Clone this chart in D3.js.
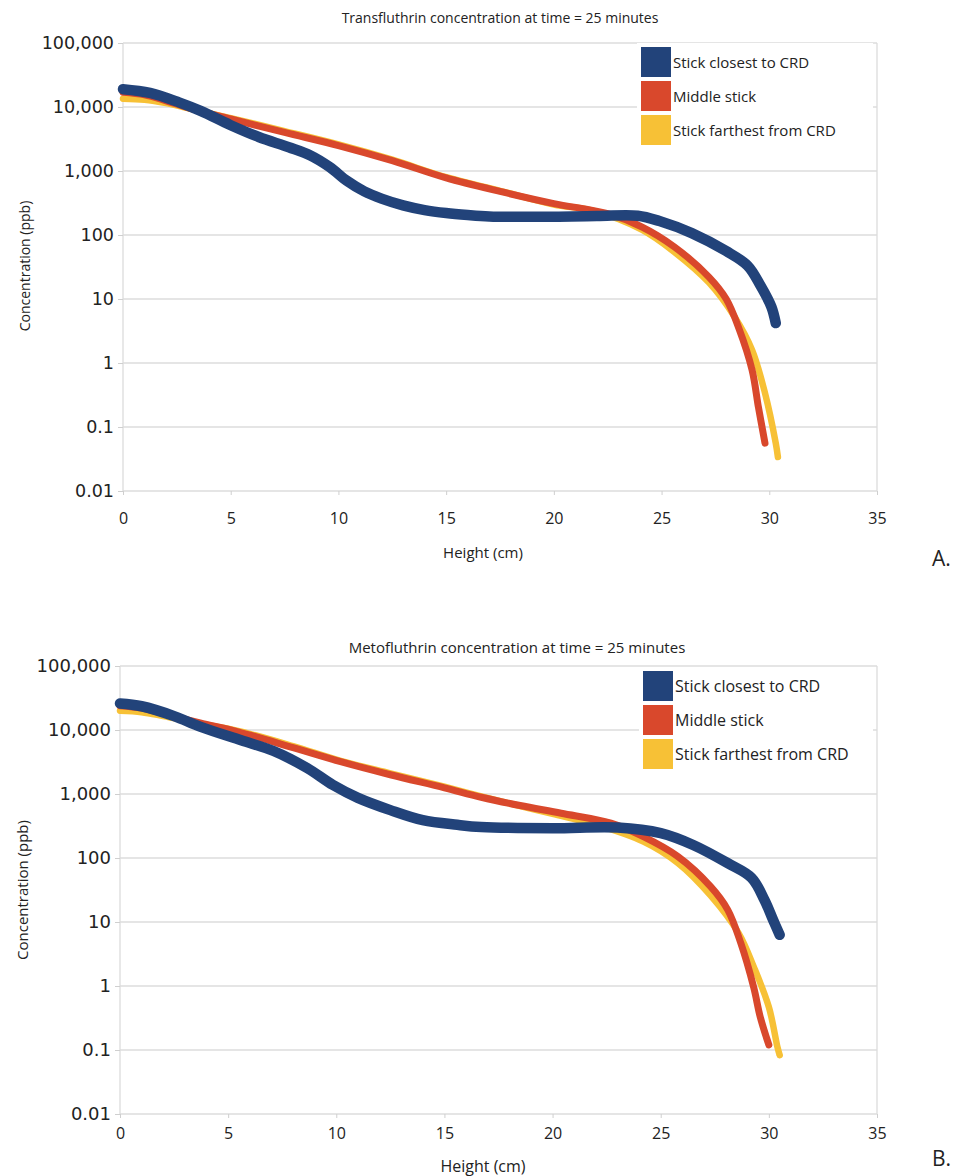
<!DOCTYPE html>
<html>
<head>
<meta charset="utf-8">
<script src="https://cdn.jsdelivr.net/npm/d3@7"></script>
<style>
  body { margin: 0; background: #fff; }
  svg { display: block; }
  .tick-y { font-family: "DejaVu Sans", sans-serif; fill: #222; }
  .txt { font-family: "Open Sans", "Noto Sans", sans-serif; fill: #222; }
</style>
</head>
<body>
<script>
// series names and colours (legend order)
var seriesNames = ["Stick closest to CRD", "Middle stick", "Stick farthest from CRD"];
var seriesColors = ["#22437a", "#d9482c", "#f7c136"];

// y ticks (log) and x ticks
var yTicks = [0.01, 0.1, 1, 10, 100, 1000, 10000, 100000];
var xTicks = [0, 5, 10, 15, 20, 25, 30, 35];

// Transfluthrin, [height cm, concentration ppb]
var transClosest = [[0,19000],[1.25,16600],[2.6,11800],[3.6,8700],[5,5200],[6.3,3400],[7.7,2350],[8.7,1750],[9.6,1150],[10.4,700],[11.2,480],[12,370],[13,290],[14,245],[15,220],[16,205],[17,195],[19,192],[22,198],[23.9,200],[24.9,165],[26.4,107],[28,56],[29,33],[29.6,16],[30.1,7.5],[30.3,4.2]];
var transMiddle = [[0,17000],[1,15500],[2,12500],[3,9800],[5,6500],[7.5,4000],[10,2500],[12.5,1450],[15,780],[17.5,480],[20,310],[22.5,215],[24.1,133],[25.6,65],[27.2,22],[28,10],[28.6,3.4],[29.2,0.78],[29.5,0.2],[29.8,0.056]];
var transFarthest = [[0,13500],[1,13000],[2,11500],[3,9600],[5,6700],[7.5,4200],[10,2600],[12.5,1500],[15,800],[17.5,490],[20,300],[21.8,240],[24.1,120],[25.6,54],[27.2,18],[28.4,5.2],[29.2,1.6],[29.8,0.34],[30.3,0.056],[30.4,0.034]];

// Metofluthrin
var metoClosest = [[0,26000],[1,23500],[2.5,16500],[3.7,11300],[5.6,6900],[7.1,4700],[8.65,2550],[9.85,1380],[11,870],[12.5,560],[14,390],[15.6,330],[16.7,305],[20,292],[23,300],[25,245],[26.5,160],[28.1,83],[29.2,49],[29.8,22],[30.2,10.7],[30.5,6.3]];
var metoMiddle = [[0,24000],[1,22000],[2,18000],[3.7,12900],[5.5,9300],[8,5300],[10.2,3200],[12.5,2000],[15,1250],[16.7,890],[18.5,660],[20.4,500],[22.7,350],[24.2,215],[25.8,105],[27.3,36],[28.1,15.5],[28.7,4.7],[29.3,0.95],[29.6,0.33],[30,0.12]];
var metoFarthest = [[0,20000],[1,19000],[2,16500],[3.5,13000],[5.5,9600],[8,5600],[10.2,3300],[12.5,2100],[15,1300],[16.7,920],[18.5,650],[20,490],[21.9,340],[24.2,180],[25.8,83],[27.3,26],[28.6,6.7],[29.3,2],[30,0.47],[30.4,0.11],[30.5,0.083]];

var W = 966, H = 1176;
var svg = d3.select("body").append("svg")
  .attr("width", W)
  .attr("height", H);

var fmt = d3.format(",");

function drawPanel(p) {
  var x = d3.scaleLinear().domain([0, 35]).range([p.left, p.right]);
  var y = d3.scaleLog().domain([0.01, 100000]).range([p.bottom, p.top]);
  var g = svg.append("g");

  // gridlines
  g.selectAll(".grid")
    .data(yTicks)
    .enter()
    .append("line")
    .attr("x1", p.left).attr("x2", p.right)
    .attr("y1", function(d) { return y(d); })
    .attr("y2", function(d) { return y(d); })
    .attr("stroke", "#dcdcdc")
    .attr("stroke-width", 1.3);

  // plot side borders
  [p.left, p.right].forEach(function(px) {
    g.append("line")
      .attr("x1", px).attr("x2", px)
      .attr("y1", p.top).attr("y2", p.bottom)
      .attr("stroke", "#dcdcdc")
      .attr("stroke-width", 1.3);
  });

  // y axis
  var yAxis = d3.axisLeft(y)
    .tickValues(yTicks)
    .tickFormat(function(d) { return fmt(d); })
    .tickSize(5)
    .tickPadding(4);
  var ya = g.append("g")
    .attr("transform", "translate(" + p.left + ",0)")
    .call(yAxis);
  ya.select(".domain").remove();
  ya.selectAll("line").attr("stroke", "#cfcfcf");
  ya.selectAll("text")
    .attr("class", "tick-y")
    .style("font-size", p.yFont + "px")
    .attr("font-family", null);

  // x axis
  var xAxis = d3.axisBottom(x)
    .tickValues(xTicks)
    .tickSize(4)
    .tickPadding(p.xPad);
  var xa = g.append("g")
    .attr("transform", "translate(0," + p.bottom + ")")
    .call(xAxis);
  xa.select(".domain").remove();
  xa.selectAll("line").attr("stroke", "#cfcfcf");
  xa.selectAll("text")
    .attr("class", "txt")
    .style("font-size", p.xFont + "px")
    .attr("font-family", null);

  // series lines, drawn back to front
  var line = d3.line()
    .x(function(d) { return x(d[0]); })
    .y(function(d) { return y(d[1]); })
    .curve(d3.curveCatmullRom.alpha(0.5));

  var widths = [10.5, 7, 6.5];
  [2, 1, 0].forEach(function(i) {
    g.append("path")
      .datum(p.data[i])
      .attr("d", line)
      .attr("fill", "none")
      .attr("stroke", seriesColors[i])
      .attr("stroke-width", widths[i])
      .attr("stroke-linecap", "round")
      .attr("stroke-linejoin", "round");
    // end marker
    var last = p.data[i][p.data[i].length - 1];
    g.append("circle")
      .attr("cx", x(last[0]))
      .attr("cy", y(last[1]))
      .attr("r", i === 0 ? 4.5 : 2.8)
      .attr("fill", seriesColors[i]);
  });

  // title
  g.append("text")
    .attr("class", "txt")
    .attr("x", p.titleX)
    .attr("y", p.titleY)
    .attr("text-anchor", "middle")
    .style("font-size", p.titleFont + "px")
    .text(p.title);

  // axis titles
  g.append("text")
    .attr("class", "txt")
    .attr("text-anchor", "middle")
    .attr("transform", "translate(" + [p.yLabelX, p.yLabelY] + ") rotate(-90)")
    .style("font-size", p.labFont + "px")
    .text("Concentration (ppb)");

  g.append("text")
    .attr("class", "txt")
    .attr("text-anchor", "middle")
    .attr("x", p.xLabelX)
    .attr("y", p.xLabelY)
    .style("font-size", p.labFont + 1 + "px")
    .text("Height (cm)");

  // panel letter
  g.append("text")
    .attr("class", "txt")
    .attr("x", 932)
    .attr("y", p.letterY)
    .style("font-size", "21px")
    .text(p.letter);

  // legend
  var lg = g.append("g");
  lg.append("rect")
    .attr("x", p.legX - 4)
    .attr("y", p.legY - 4)
    .attr("width", p.right - p.legX)
    .attr("height", 3 * p.legStep + 6)
    .attr("fill", "#fff");

  var items = lg.selectAll(".legend")
    .data(seriesNames)
    .enter()
    .append("g")
    .attr("transform", function(d, i) { return "translate(" + p.legX + "," + (p.legY + i * p.legStep) + ")"; });

  items.append("rect")
    .attr("width", 30)
    .attr("height", 30)
    .attr("fill", function(d, i) { return seriesColors[i]; });

  items.append("text")
    .attr("class", "txt")
    .attr("x", 32)
    .attr("y", 21)
    .style("font-size", p.legFont + "px")
    .text(function(d) { return d; });
}

drawPanel({
  left: 123, right: 877, top: 43, bottom: 491,
  data: [transClosest, transMiddle, transFarthest],
  title: "Transfluthrin concentration at time = 25 minutes",
  titleX: 500, titleY: 23, titleFont: 14,
  yLabelX: 30, yLabelY: 266, xLabelX: 483, xLabelY: 558, labFont: 14,
  yFont: 17.5, xFont: 16, xPad: 18,
  letter: "A.", letterY: 566,
  legX: 641, legY: 47, legStep: 34, legFont: 15
});

drawPanel({
  left: 120, right: 877, top: 666, bottom: 1114,
  data: [metoClosest, metoMiddle, metoFarthest],
  title: "Metofluthrin concentration at time = 25 minutes",
  titleX: 517, titleY: 653, titleFont: 15,
  yLabelX: 28, yLabelY: 890, xLabelX: 483, xLabelY: 1172, labFont: 15,
  yFont: 18, xFont: 16, xPad: 10,
  letter: "B.", letterY: 1166,
  legX: 643, legY: 671, legStep: 34, legFont: 16
});
</script>
</body>
</html>
